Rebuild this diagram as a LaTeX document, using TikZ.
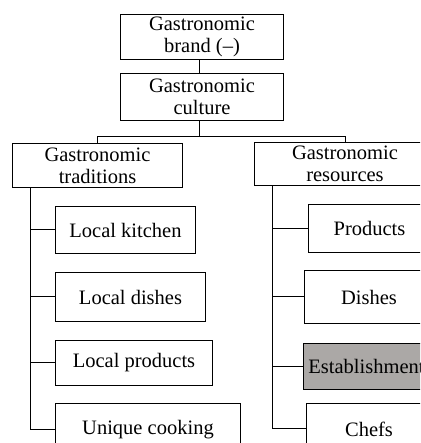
\documentclass[tikz,border=0pt]{standalone}
\usepackage{fontspec}
\setmainfont{Liberation Serif}
\definecolor{estgray}{RGB}{171,168,166}
\begin{document}
\begin{tikzpicture}[x=1pt,y=1pt,
  box/.style={draw, line width=1pt, inner sep=0pt, align=center,
    font=\fontsize{20.5}{22}\selectfont},
  link/.style={line width=1pt}]
\useasboundingbox (0,0) rectangle (420,443);
\clip (0,0) rectangle (420,443);
% top
\node[box, minimum width=163pt, minimum height=45pt] (brand) at (202,406) {Gastronomic\\brand (--)};
\node[box, minimum width=163pt, minimum height=47pt] (culture) at (202,346) {Gastronomic\\culture};
\node[box, minimum width=170pt, minimum height=44pt] (trad) at (97.5,277.5) {Gastronomic\\traditions};
\node[box, minimum width=181pt, minimum height=43pt] (res) at (345,279) {Gastronomic\\resources};
% left column
\node[box, minimum width=140pt, minimum height=47pt] (lk) at (125.5,213) {Local kitchen};
\node[box, minimum width=150pt, minimum height=49pt] (ld) at (130.5,146) {Local dishes};
\node[box, minimum width=157pt, minimum height=45pt] (lp) at (134,80) {Local products};
\node[box, minimum width=185pt, minimum height=53pt] (uc) at (148,13) {Unique cooking};
% right column
\node[box, minimum width=122pt, minimum height=48pt] (pr) at (369.5,214.5) {Products};
\node[box, minimum width=129pt, minimum height=53pt] (di) at (369,146) {Dishes};
\node[box, fill=estgray, minimum width=134pt, minimum height=46pt] (es) at (370.5,76.5) {Establishments};
\node[box, minimum width=125pt, minimum height=51pt] (ch) at (369,14) {Chefs};
% connectors
\coordinate (bar) at (199.5,306.5);
\coordinate (sL) at (30.5,255.5);
\coordinate (sR) at (272.5,257.5);
\draw[link] (brand.south -| bar) -- (culture.north -| bar);
\draw[link] (culture.south -| bar) -- (bar);
\draw[link] (trad.north) |- (bar) -| (res.north);
\draw[link] (sL) |- (uc.west);
\draw[link] (sL |- lk.west) -- (lk.west);
\draw[link] (sL |- ld.west) -- (ld.west);
\draw[link] (sL |- lp.west) -- (lp.west);
\draw[link] (sR) |- (ch.west);
\draw[link] (sR |- pr.west) -- (pr.west);
\draw[link] (sR |- di.west) -- (di.west);
\draw[link] (sR |- es.west) -- (es.west);
\end{tikzpicture}
\end{document}
